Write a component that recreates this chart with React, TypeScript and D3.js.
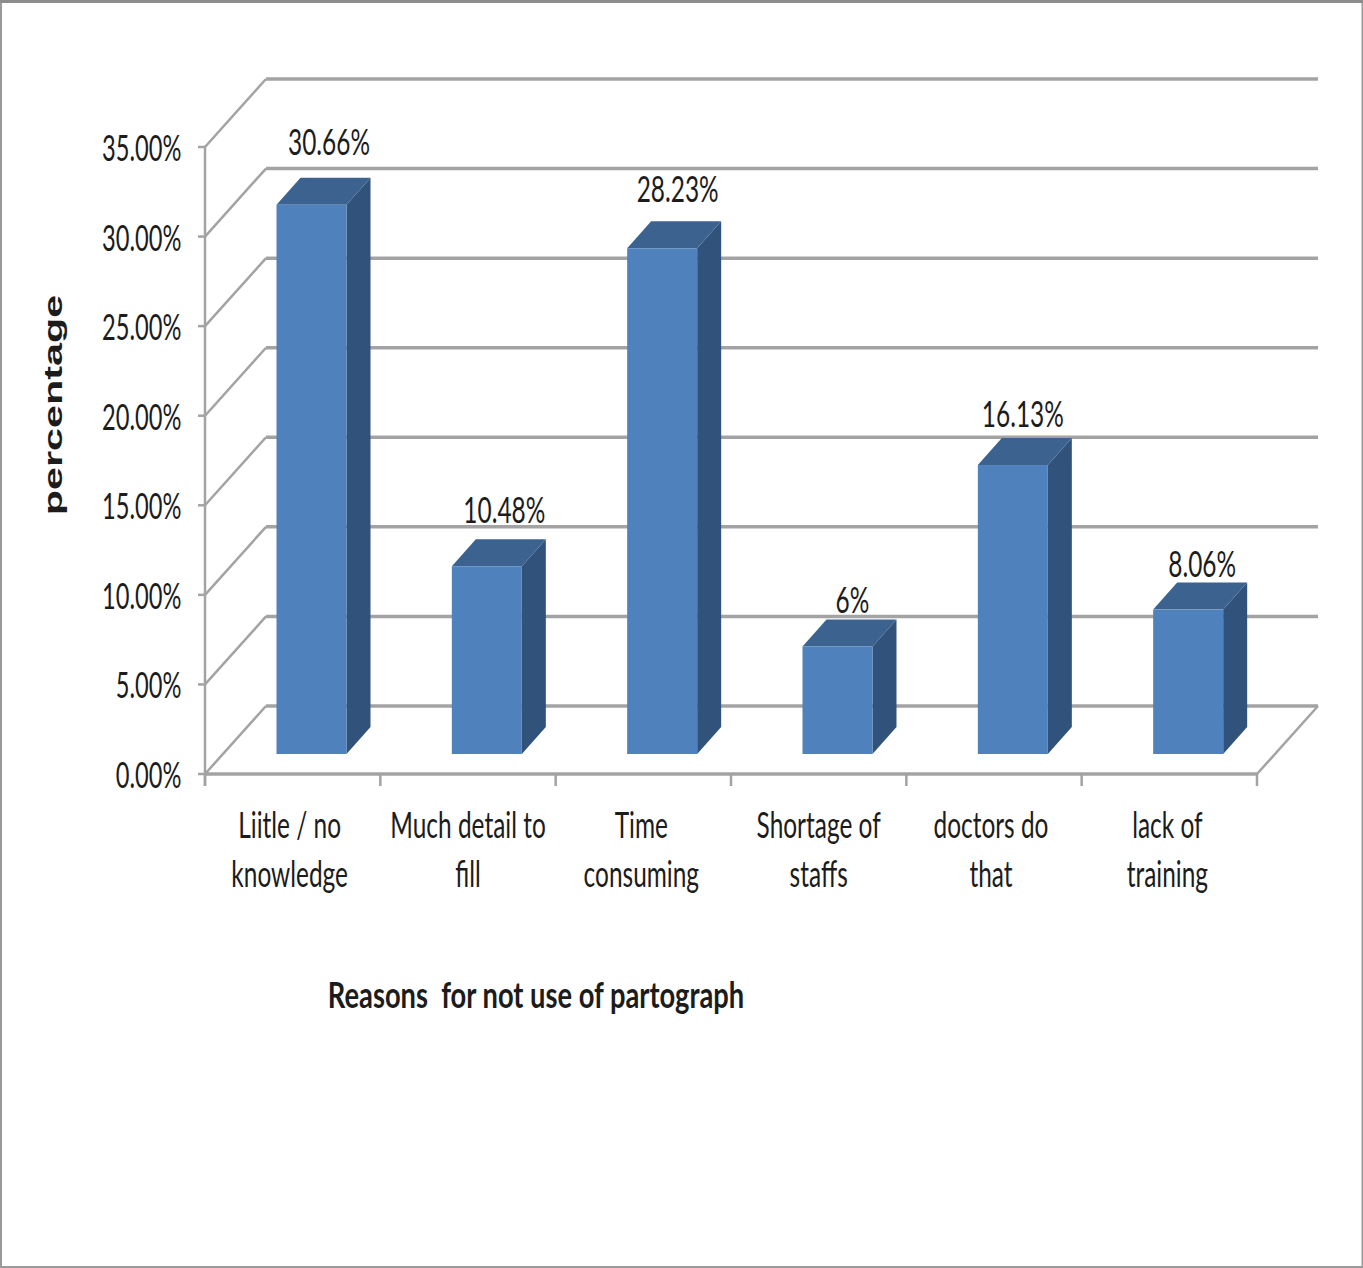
import React from "react";
import * as d3 from "d3";

const categories = ["Liitle / no|knowledge", "Much detail to|fill", "Time|consuming", "Shortage of|staffs", "doctors do|that", "lack of|training"];
const values = [30.66, 10.48, 28.23, 6, 16.13, 8.06];
const valueLabels = ["30.66%", "10.48%", "28.23%", "6%", "16.13%", "8.06%"];
const axisTicks = [0, 5, 10, 15, 20, 25, 30, 35];
const xAxisTitle = "Reasons  for not use of partograph";
const yAxisTitle = "percentage";

const W = 1363, H = 1268;
const GREY = "#a3a3a3";
const FONT = "Lato, sans-serif";

// Oblique offset of the back wall, and of a bar's depth.
const wallDx = 61, wallDy = -68;
const barDx = 24, barDy = -27;
const floorLift = 20;

const y = d3.scaleLinear().domain([0, 35]).range([774, 147]);
const x = d3.scaleBand<number>().domain(d3.range(categories.length)).range([205, 1257]);
const barW = 70;
const barInset = 71.5;

// Hand-placed value labels: shift from the top of each bar's front face.
const labelShift = [[17.5, -62], [17.5, -55.5], [15.5, -58.5], [15, -45.5], [10, -50.5], [14, -44.5]];
const catShift = [-3, 0, -2, 0, -3, -2];

function Txt({ x: px, y: py, sx = 0.94, sy = 1.38, size = 26, weight = 400, anchor = "middle", rotate = 0, children, family = FONT }: any) {
  return (
    <text
      transform={`translate(${px},${py}) rotate(${rotate}) scale(${sx},${sy})`}
      textAnchor={anchor}
      fontFamily={family}
      fontSize={size}
      fontWeight={weight}
      fill="#1c1c1c"
      style={{ whiteSpace: "pre" }}
    >
      {children}
    </text>
  );
}

export default function App() {
  const back = wallDy, xl = 205;
  return (
    <svg width={W} height={H} style={{ position: "absolute", left: 0, top: 0, display: "block", background: "#fff" }}>
      {/* Outer frame */}
      <rect x={1} y={1.5} width={W - 1.5} height={H - 2.5} fill="none" stroke="#9a9a9a" strokeWidth={2} />
      <line x1={0} x2={W} y1={1.5} y2={1.5} stroke="#8c8c8c" strokeWidth={3} />

      {/* Back wall gridlines and their runs along the side wall */}
      {axisTicks.map((t) => (
        <g key={t} fill="none" stroke={GREY}>
          <line x1={xl + wallDx} x2={x.range()[1] + wallDx} y1={y(t) + back} y2={y(t) + back} strokeWidth={3.5} />
          <line x1={xl} y1={y(t)} x2={xl + wallDx} y2={y(t) + back} strokeWidth={2.5} />
          <line x1={xl - 7} x2={xl} y1={y(t)} y2={y(t)} strokeWidth={2.5} />
        </g>
      ))}

      {/* Vertical axis, floor front edge and category ticks */}
      <line x1={xl} x2={xl} y1={y(35)} y2={786} stroke={GREY} strokeWidth={2.5} />
      <line x1={xl} x2={x.range()[1]} y1={y(0)} y2={y(0)} stroke={GREY} strokeWidth={3.5} />
      <line x1={x.range()[1]} y1={y(0)} x2={x.range()[1] + wallDx} y2={y(0) + back} stroke={GREY} strokeWidth={2.5} />
      {d3.range(categories.length + 1).map((i) => {
        const px = xl + i * x.step();
        return <line key={i} x1={px} x2={px} y1={y(0)} y2={786} stroke={GREY} strokeWidth={2.5} />;
      })}

      {/* 3D bars */}
      {values.map((v, i) => {
        const x0 = (x(i) as number) + barInset;
        const x1 = x0 + barW;
        const yb = y(0) - floorLift;
        const yt = y(v) - floorLift;
        const side = d3.path();
        side.moveTo(x1, yt);
        side.lineTo(x1 + barDx, yt + barDy);
        side.lineTo(x1 + barDx, yb + barDy);
        side.lineTo(x1, yb);
        side.closePath();
        const top = d3.path();
        top.moveTo(x0, yt);
        top.lineTo(x0 + barDx, yt + barDy);
        top.lineTo(x1 + barDx, yt + barDy);
        top.lineTo(x1, yt);
        top.closePath();
        return (
          <g key={i}>
            <path d={side.toString()} fill="#30527b" />
            <path d={top.toString()} fill="#3c6290" />
            <rect x={x0} y={yt} width={barW} height={yb - yt} fill="#4f81bd" />
          </g>
        );
      })}

      {/* Value labels */}
      {values.map((v, i) => (
        <Txt key={i} x={(x(i) as number) + barInset + barW / 2 + labelShift[i][0]} y={y(v) - floorLift + labelShift[i][1] + 12}>
          {valueLabels[i]}
        </Txt>
      ))}

      {/* Vertical axis labels */}
      {axisTicks.map((t) => (
        <Txt key={t} x={181.5} y={y(t) + 14} sx={0.91} anchor="end">{`${t.toFixed(2)}%`}</Txt>
      ))}

      {/* Category labels */}
      {categories.map((c, i) => {
        const cx = (x(i) as number) + x.bandwidth() / 2 + catShift[i];
        return c.split("|").map((line, j) => (
          <Txt key={j} x={cx} y={838 + j * 49}>{line}</Txt>
        ));
      })}

      {/* Axis titles */}
      <Txt x={536} y={1008} weight={700} sx={1.05}>{xAxisTitle}</Txt>
      <Txt x={62} y={405} weight={700} size={26} sx={1.59} sy={1.0} rotate={-90} family="'Liberation Sans', sans-serif">{yAxisTitle}</Txt>
    </svg>
  );
}
